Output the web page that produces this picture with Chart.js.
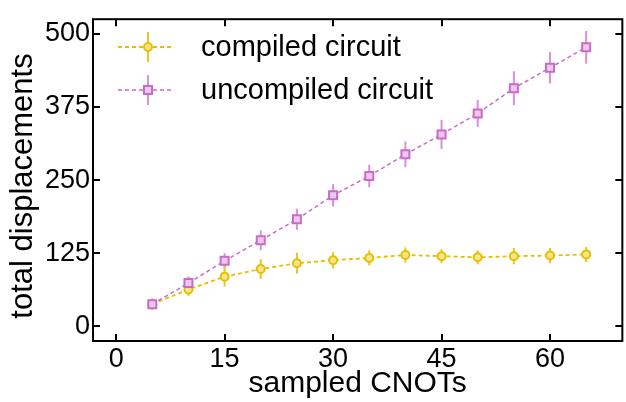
<!DOCTYPE html>
<html>
<head>
<meta charset="utf-8">
<script src="https://cdn.jsdelivr.net/npm/chart.js@4.4.1/dist/chart.umd.min.js"></script>
<style>
html, body { margin: 0; padding: 0; background: #fff; overflow: hidden; }
#wrap { width: 630px; height: 402px; }
</style>
</head>
<body>
<div id="wrap"><canvas id="chart" width="630" height="402"></canvas></div>
<script>
// values
const sampledCnots = [5, 10, 15, 20, 25, 30, 35, 40, 45, 50, 55, 60, 65];
const compiledTotals = [38, 63, 85, 98, 108, 113, 117, 122, 120, 118, 120, 121, 123];
const compiledErrors = [10, 11, 17, 17, 18, 14, 13, 13, 12, 12, 14, 13, 13];
const uncompiledTotals = [38, 74, 112, 147, 183, 224, 257, 294, 328, 364, 407, 442, 477];
const uncompiledErrors = [6, 11, 13, 17, 18, 19, 19, 22, 25, 23, 29, 27, 28];
const xTickValues = [0, 15, 30, 45, 60];
const yTickValues = [0, 125, 250, 375, 500];
const seriesLabels = ['compiled circuit', 'uncompiled circuit'];
const axisTitles = ['sampled CNOTs', 'total displacements'];

const FONT = "'Liberation Sans', Arial, Helvetica, sans-serif";
const gold = '#e6c000';
const goldFill = '#f8e68a';
const goldErr = '#e8c62a';
const orchid = '#c86cc8';
const orchidFill = '#ecc8ec';
const orchidErr = '#d890d8';

// draws vertical error bars through the chart scales
const errorBarPlugin = {
    id: 'errorBars',
    beforeDatasetsDraw(chart) {
        const ctx = chart.ctx;
        const xs = chart.scales.x;
        const ys = chart.scales.y;
        chart.data.datasets.forEach((ds) => {
            ctx.save();
            ctx.strokeStyle = ds.errColor;
            ctx.lineWidth = 2;
            ds.data.forEach((p, i) => {
                const px = xs.getPixelForValue(p.x);
                ctx.beginPath();
                ctx.moveTo(px, ys.getPixelForValue(p.y - ds.errors[i]));
                ctx.lineTo(px, ys.getPixelForValue(p.y + ds.errors[i]));
                ctx.stroke();
            });
            ctx.restore();
        });
    }
};

// frame with inward ticks on all sides, y title and the legend
const framePlugin = {
    id: 'frameTicks',
    afterDraw(chart) {
        const ctx = chart.ctx;
        const a = chart.chartArea;
        const xs = chart.scales.x;
        const ys = chart.scales.y;
        ctx.save();
        ctx.strokeStyle = '#000';
        ctx.lineWidth = 2;
        ctx.strokeRect(a.left, a.top, a.right - a.left, a.bottom - a.top);
        ctx.beginPath();
        xTickValues.forEach((v) => {
            const px = Math.round(xs.getPixelForValue(v));
            ctx.moveTo(px, a.bottom); ctx.lineTo(px, a.bottom - 7);
            ctx.moveTo(px, a.top); ctx.lineTo(px, a.top + 7);
        });
        yTickValues.forEach((v) => {
            const py = Math.round(ys.getPixelForValue(v));
            ctx.moveTo(a.left, py); ctx.lineTo(a.left + 7, py);
            ctx.moveTo(a.right, py); ctx.lineTo(a.right - 7, py);
        });
        ctx.stroke();

        // y axis title
        ctx.save();
        ctx.translate(23, 186);
        ctx.rotate(-Math.PI / 2);
        ctx.fillStyle = '#000';
        ctx.font = '31px ' + FONT;
        ctx.textAlign = 'center';
        ctx.textBaseline = 'middle';
        ctx.fillText(axisTitles[1], 0, 0);
        ctx.restore();

        // legend
        const rows = [47, 90];
        chart.data.datasets.slice().sort((p, q) => p.legendIndex - q.legendIndex).forEach((ds, i) => {
            const y = rows[i];
            const mx = 148;
            ctx.strokeStyle = ds.errColor;
            ctx.lineWidth = 2;
            ctx.setLineDash([]);
            ctx.beginPath();
            ctx.moveTo(mx, y - 15); ctx.lineTo(mx, y + 15);
            ctx.stroke();
            ctx.strokeStyle = ds.borderColor;
            ctx.lineWidth = ds.borderWidth;
            ctx.setLineDash(ds.borderDash);
            ctx.beginPath();
            ctx.moveTo(118, y); ctx.lineTo(172, y);
            ctx.stroke();
            ctx.setLineDash([]);
            ctx.fillStyle = ds.pointBackgroundColor;
            ctx.strokeStyle = ds.pointBorderColor;
            ctx.lineWidth = ds.pointBorderWidth;
            ctx.beginPath();
            if (ds.pointStyle === 'rect') {
                ctx.rect(mx - 4, y - 4, 8, 8);
            } else {
                ctx.arc(mx, y, 4, 0, Math.PI * 2);
            }
            ctx.fill();
            ctx.stroke();
            ctx.fillStyle = '#000';
            ctx.font = '29px ' + FONT;
            ctx.textBaseline = 'middle';
            ctx.textAlign = 'left';
            ctx.fillText(ds.label, 201, y + 1);
        });
        ctx.restore();
    }
};

const toPoints = (ys) => sampledCnots.map((x, i) => ({ x: x, y: ys[i] }));

new Chart(document.getElementById('chart').getContext('2d'), {
    type: 'line',
    data: {
        datasets: [
            {
                label: seriesLabels[1],
                legendIndex: 1,
                data: toPoints(uncompiledTotals),
                errors: uncompiledErrors,
                errColor: orchidErr,
                borderColor: orchid,
                borderWidth: 1.5,
                borderDash: [4, 3],
                pointStyle: 'rect',
                pointRadius: 5.66,
                pointBackgroundColor: orchidFill,
                pointBorderColor: orchid,
                pointBorderWidth: 2,
                tension: 0,
                order: 1
            },
            {
                label: seriesLabels[0],
                legendIndex: 0,
                data: toPoints(compiledTotals),
                errors: compiledErrors,
                errColor: goldErr,
                borderColor: gold,
                borderWidth: 1.8,
                borderDash: [4, 3],
                pointStyle: 'circle',
                pointRadius: 4,
                pointBackgroundColor: goldFill,
                pointBorderColor: gold,
                pointBorderWidth: 2,
                tension: 0,
                order: 2
            }
        ]
    },
    options: {
        responsive: false,
        animation: false,
        layout: { padding: { left: 0, top: 10, right: 2.3, bottom: 0 } },
        scales: {
            x: {
                type: 'linear',
                min: -3.2,
                max: 70,
                afterBuildTicks: (scale) => { scale.ticks = xTickValues.map((v) => ({ value: v })); },
                afterFit: (scale) => { scale.height = 61; },
                grid: { display: false, drawTicks: false },
                border: { display: false },
                ticks: { color: '#000', font: { family: FONT, size: 27 }, padding: 2, maxRotation: 0 },
                title: { display: true, text: axisTitles[0], color: '#000', font: { family: FONT, size: 30 }, padding: 0 }
            },
            y: {
                min: -25,
                max: 525,
                afterBuildTicks: (scale) => { scale.ticks = yTickValues.map((v) => ({ value: v })); },
                afterFit: (scale) => { scale.width = 93; },
                grid: { display: false, drawTicks: false },
                border: { display: false },
                ticks: { color: '#000', font: { family: FONT, size: 27 }, padding: 3 },
                title: { display: false }
            }
        },
        plugins: {
            legend: { display: false },
            tooltip: { enabled: false }
        }
    },
    plugins: [errorBarPlugin, framePlugin]
});
</script>
</body>
</html>
